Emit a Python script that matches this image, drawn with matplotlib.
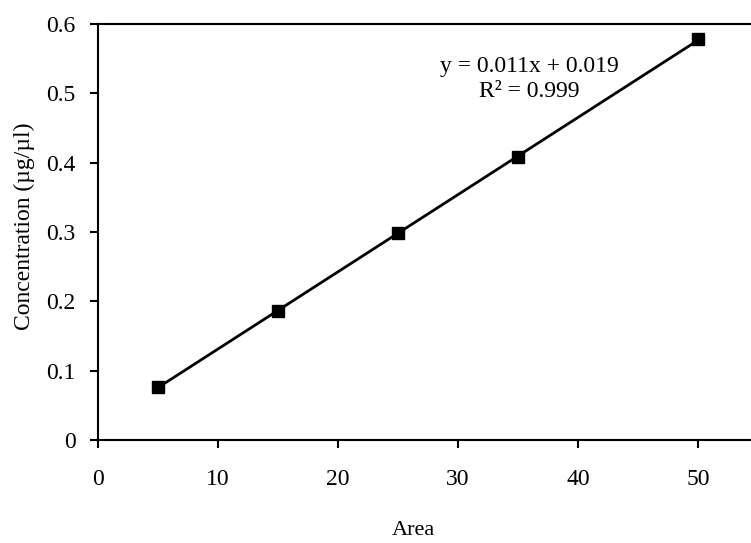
import numpy as np
import matplotlib
matplotlib.use("Agg")
import matplotlib.pyplot as plt

area = [5, 15, 25, 35, 50]
concentration = [0.077, 0.186, 0.298, 0.408, 0.578]
x_ticks = [0, 10, 20, 30, 40, 50]
y_ticks = [0, 0.1, 0.2, 0.3, 0.4, 0.5, 0.6]
y_tick_labels = ["0", "0.1", "0.2", "0.3", "0.4", "0.5", "0.6"]
equation = "y = 0.011x + 0.019"
r2_text = "R² = 0.999"

plt.rcParams['font.family'] = ['Liberation Serif', 'DejaVu Serif']

W, H = 751, 543
fig = plt.figure(figsize=(W / 100, H / 100), dpi=100)
left, right, top, bottom = 98, 758, 24, 440
ax = fig.add_axes([left / W, 1 - bottom / H, (right - left) / W, (bottom - top) / H])

slope, intercept = np.polyfit(area, concentration, 1)
xs = np.array([area[0], area[-1]])
ax.plot(xs, slope * xs + intercept, color='black', lw=2.0, zorder=2)
ax.plot(area, concentration, linestyle='none', marker='s', markersize=8,
        color='black', zorder=3)

ax.set_xlim(0, 55)
ax.set_ylim(0, 0.6)
ax.set_xticks(x_ticks)
ax.set_yticks(y_ticks)
ax.set_yticklabels(y_tick_labels)
ax.tick_params(axis='both', direction='out', length=5.5, width=1.5, labelsize=17,
               colors='black')
ax.tick_params(axis='x', pad=15.5)
ax.tick_params(axis='y', pad=10.5)
for s in ['left', 'bottom', 'top']:
    ax.spines[s].set_linewidth(1.5)
ax.spines['right'].set_visible(False)

fig.text(413 / W, 1 - 535 / H, "Area", fontsize=16, ha='center', va='baseline')
fig.text(24 / W, 1 - 226 / H, "Concentration (µg/µl)", fontsize=17,
         rotation=90, ha='center', va='center')

ax.text(0.653, 0.868, equation + "\n" + r2_text, transform=ax.transAxes,
        ha='center', va='center', fontsize=17, linespacing=1.3)

fig.savefig("out.png", dpi=100)
